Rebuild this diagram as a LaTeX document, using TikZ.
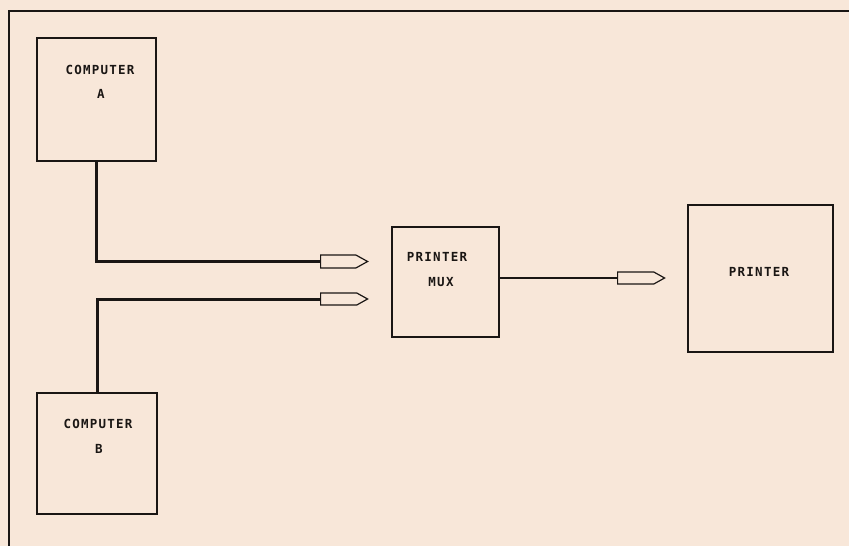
\documentclass[tikz,border=0pt]{standalone}
\usepackage{fontspec}
\newfontfamily\dotfont[LetterSpace=10]{DejaVu Sans Mono Bold}
\usetikzlibrary{shapes.symbols}
\definecolor{paper}{HTML}{F8E7D9}
\definecolor{ink}{HTML}{1A1614}
\tikzset{
  box/.style={draw=ink, line width=1.4pt, inner sep=0pt},
  lbl/.style={inner sep=0pt, text=ink, font=\dotfont\fontsize{12.5}{14}\selectfont},
  plug/.style={draw=ink, line width=1.2pt, signal, signal to=east, signal pointer angle=58,
    inner sep=0pt, minimum width=47pt, fill=paper, anchor=west},
  wire/.style={draw=ink, line width=3pt},
  thinwire/.style={draw=ink, line width=2.4pt},
}
\begin{document}
\begin{tikzpicture}[x=1pt,y=-1pt]
\useasboundingbox[fill=paper] (0,0) rectangle (849,546);
\coordinate (frameTL) at (9,11);
\coordinate (frameBL) at (9,546);
\coordinate (frameTR) at (849,11);
\draw[ink, line width=1.4pt] (frameBL) -- (frameTL) -- (frameTR);

\node[box, minimum width=119pt, minimum height=123pt] (compA) at (96.5,99.5) {};
\node[lbl] (compAt) at (100,70) {COMPUTER};
\node[lbl] (compAl) at (101,94) {A};

\node[box, minimum width=120pt, minimum height=121pt] (compB) at (97,453.5) {};
\node[lbl] (compBt) at (98,424) {COMPUTER};
\node[lbl] (compBl) at (99,449) {B};

\node[box, minimum width=107pt, minimum height=110pt] (mux) at (445.5,282) {};
\node[lbl] (muxt) at (437,257) {PRINTER};
\node[lbl] (muxl) at (441,282) {MUX};

\node[box, minimum width=145pt, minimum height=147pt] (printer) at (760.5,278.5) {};
\node[lbl] (printert) at (759,272) {PRINTER};

\node[plug, minimum height=13pt] (plugA) at (320,261.5) {};
\node[plug, minimum height=12pt] (plugB) at (320,299) {};
\node[plug, minimum height=12pt] (plugOut) at (617,278) {};

\draw[wire] (compA.south) |- (plugA.west);
\draw[wire] (compB.north) |- (plugB.west);
\draw[thinwire] (mux.east |- plugOut.west) -- (plugOut.west);
\end{tikzpicture}
\end{document}
